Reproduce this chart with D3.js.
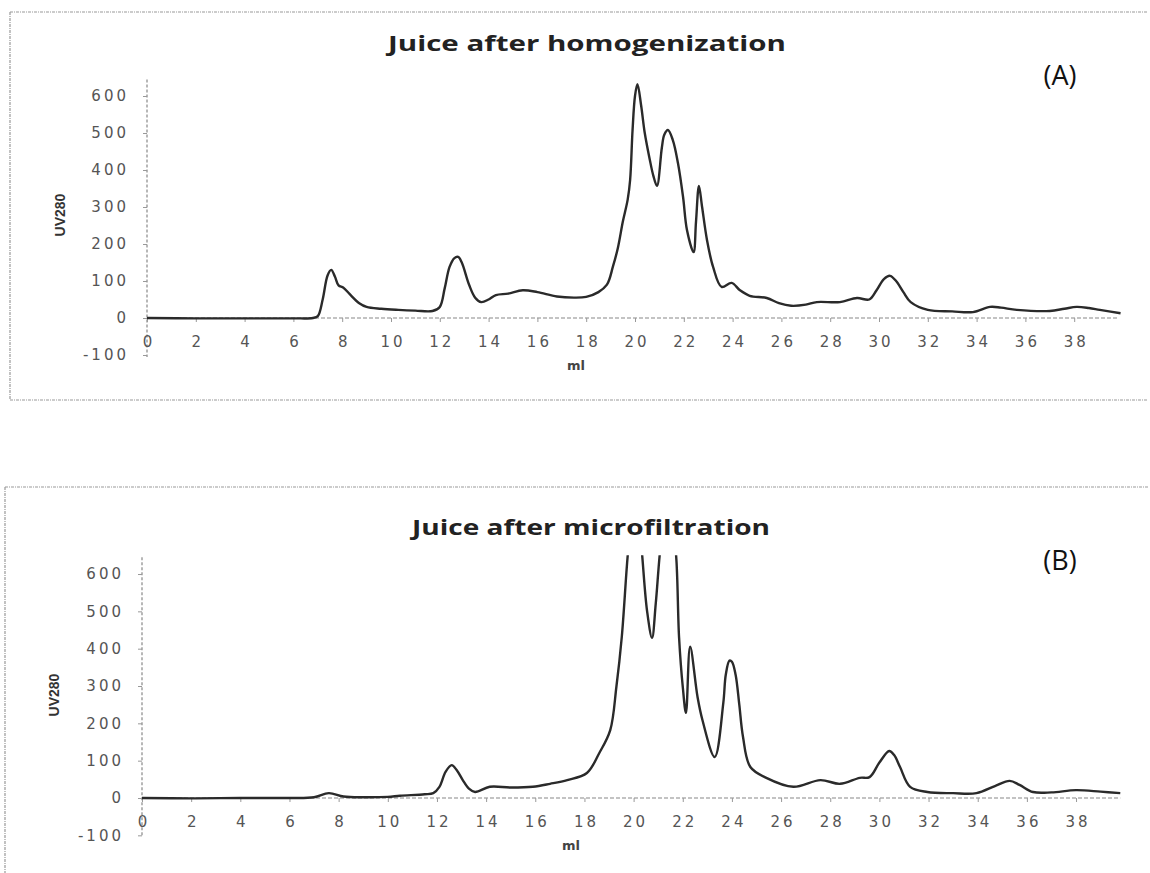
<!DOCTYPE html>
<html>
<head>
<meta charset="utf-8">
<script src="https://cdn.jsdelivr.net/npm/d3@7"></script>
<style>
  html, body { margin: 0; padding: 0; background: #fff; }
  svg { display: block; }
</style>
</head>
<body>
<svg id="chart" width="1150" height="873"></svg>
<script>
// ---------- data ----------
const titles = ["Juice after homogenization", "Juice after microfiltration"];
const panelTags = ["(A)", "(B)"];
const xTicks = [0, 2, 4, 6, 8, 10, 12, 14, 16, 18, 20, 22, 24, 26, 28, 30, 32, 34, 36, 38];
const yTicks = [-100, 0, 100, 200, 300, 400, 500, 600];
const xLabel = "ml";
const yLabel = "UV280";

// Panel A: elution volume (ml) and UV280
const volA = [0, 2, 4, 6, 6.8, 7.0, 7.2, 7.4, 7.55, 7.7, 7.85, 8.05, 8.3, 8.7, 9.0, 9.6, 10.3, 11.0, 11.7,
  12.0, 12.2, 12.4, 12.6, 12.75, 12.9, 13.2, 13.45, 13.7, 14.0, 14.3, 14.8, 15.4, 16.0, 16.8, 17.5, 18.0,
  18.5, 18.85, 19.1, 19.3, 19.5, 19.7, 19.8, 19.9, 20.0, 20.1, 20.25, 20.4, 20.6, 20.75, 20.9, 21.1, 21.2, 21.35,
  21.55, 21.76, 21.97, 22.13, 22.4, 22.5, 22.62, 22.75, 22.95, 23.2, 23.55, 23.96, 24.3, 24.7, 25.4, 25.9,
  26.4, 27.0, 27.45, 28.4, 29.1, 29.6, 29.9, 30.2, 30.45, 30.7, 31.0, 31.3, 32.0, 33.0, 33.85, 34.55,
  35.0, 35.65, 37.0, 37.6, 38.1, 38.6, 39.05, 39.9];
const uvA = [0, -1, -1, -1, 0, 5, 50, 115, 130, 112, 88, 82, 65, 40, 30, 25, 22, 20, 19,
  30, 80, 138, 162, 165, 150, 90, 55, 43, 50, 62, 66, 75, 70, 58, 55, 57,
  70, 90, 140, 190, 260, 320, 373, 508, 600, 632, 575, 500, 430, 385, 357, 460, 495, 508,
  481, 419, 327, 238, 178, 260, 357, 300, 211, 138, 84, 95, 75, 60, 54, 40,
  33, 36, 43, 43, 54, 50, 75, 105, 114, 100, 70, 43, 22, 18, 16, 30,
  28, 22, 19, 25, 30, 27, 22, 13];

// Panel B
const volB = [0, 2, 4, 6, 7.0, 7.6, 8.2, 9.0, 10.0, 10.5, 11.5, 11.85, 12.1, 12.35, 12.6, 12.8, 13.05,
  13.3, 13.55, 14.15, 15.0, 15.9, 16.6, 17.3, 18.1, 18.6, 19.05, 19.3, 19.52, 19.77, 20.0, 20.2, 20.34,
  20.55, 20.75, 20.9, 21.07, 21.3, 21.55, 21.72, 21.85, 22.0, 22.13, 22.3, 22.6, 22.8, 23.3, 23.65, 23.75,
  23.9, 24.0, 24.15, 24.3, 24.45, 24.75, 25.4, 26.5, 27.6, 28.4, 29.2, 29.6, 30.0, 30.4, 30.6, 30.84, 31.25,
  31.95, 33.0, 33.95, 34.7, 35.3, 35.7, 36.25, 37.0, 38.0, 39.0, 39.8];
const uvB = [0, -1, 0, 0, 2, 13, 4, 2, 3, 6, 10, 13, 30, 70, 88, 75, 48,
  25, 16, 30, 28, 30, 38, 48, 67, 120, 182, 298, 432, 657, 800, 760, 657,
  500, 429, 520, 657, 790, 730, 657, 430, 298, 228, 405, 271, 209, 110, 255, 330,
  368, 365, 330, 250, 164, 83, 54, 30, 48, 38, 54, 56, 95, 126, 115, 83, 30,
  16, 13, 13, 32, 46, 35, 16, 15, 21, 17, 13];

// ---------- layout ----------
const panels = [
  { vol: volA, uv: uvA, frame: { x: 10, y: 12, w: 1138, h: 388 },
    x0: 147, xPer: 24.4, y0: 318, yPer: 0.37, titleY: 51, titleX: 587, titleW: 398,
    tagX: 1060, tagY: 85, mlY: 370, mlX: 576, uvX: 60, uvY: 215, bottomBorder: true },
  { vol: volB, uv: uvB, frame: { x: 5, y: 487, w: 1143, h: 400 },
    x0: 142, xPer: 24.58, y0: 798, yPer: 0.3733, titleY: 535, titleX: 591, titleW: 358,
    tagX: 1060, tagY: 570, mlY: 850, mlX: 571, uvX: 54, uvY: 695, bottomBorder: false }
];

const svg = d3.select("#chart");

panels.forEach((p, i) => {
  const g = svg.append("g");
  const f = p.frame;
  const frameStyle = s => s.attr("stroke", "#999").attr("stroke-width", 1.2)
    .attr("stroke-dasharray", "3,1,1,1").attr("fill", "none");
  g.append("line").attr("x1", f.x).attr("x2", f.x + f.w).attr("y1", f.y).attr("y2", f.y).call(frameStyle);
  g.append("line").attr("x1", f.x).attr("x2", f.x).attr("y1", f.y).attr("y2", f.y + f.h).call(frameStyle);
  if (p.bottomBorder)
    g.append("line").attr("x1", f.x).attr("x2", f.x + f.w).attr("y1", f.y + f.h).attr("y2", f.y + f.h).call(frameStyle);

  const x = d3.scaleLinear().domain([0, 40]).range([p.x0, p.x0 + 40 * p.xPer]);
  const y = d3.scaleLinear().domain([0, 650]).range([p.y0, p.y0 - 650 * p.yPer]);

  const clipId = "clip" + i;
  svg.append("clipPath").attr("id", clipId).append("rect")
    .attr("x", x(0) - 2).attr("y", y(650)).attr("width", x(40) - x(0) + 4).attr("height", y(-100) - y(650));

  const fmt = d => String(d);

  // y axis
  const yAx = g.append("g").attr("transform", `translate(${x(0)},0)`)
    .call(d3.axisLeft(y).tickValues(yTicks).tickSize(4).tickSizeOuter(0).tickPadding(14).tickFormat(fmt));
  yAx.select(".domain").attr("d", `M0,${y(650) + 2}V${y(-100) + 2}`)
    .attr("stroke", "#888").attr("stroke-width", 1.2).attr("stroke-dasharray", "3,2");
  yAx.selectAll(".tick line").attr("stroke", "#999");
  yAx.selectAll(".tick text").attr("fill", "#555").attr("font-family", "DejaVu Sans")
    .attr("font-size", 15).attr("letter-spacing", "3px");

  // x axis at y = 0
  const xAx = g.append("g").attr("transform", `translate(0,${y(0)})`)
    .call(d3.axisBottom(x).tickValues(xTicks).tickSize(4).tickSizeOuter(0).tickPadding(14).tickFormat(fmt));
  xAx.select(".domain").attr("d", `M${x(0)},0H${x(39.8)}`)
    .attr("stroke", "#888").attr("stroke-width", 1.2).attr("stroke-dasharray", "4,2");
  xAx.selectAll(".tick line").attr("stroke", "#999");
  xAx.selectAll(".tick text").attr("fill", "#555").attr("font-family", "DejaVu Sans")
    .attr("font-size", 15).attr("letter-spacing", "3px").attr("dx", "1.5");

  // line
  const pts = p.vol.map((v, k) => [v, p.uv[k]]);
  const line = d3.line().x(d => x(d[0])).y(d => y(d[1])).curve(d3.curveCatmullRom.alpha(0.5));
  g.append("path").datum(pts).attr("d", line).attr("clip-path", `url(#${clipId})`)
    .attr("fill", "none").attr("stroke", "#2a2a2a").attr("stroke-width", 2.4).attr("stroke-linejoin", "round");

  // title
  g.append("text").attr("x", p.titleX).attr("y", p.titleY).attr("text-anchor", "middle")
    .attr("font-family", "Open Sans").attr("font-weight", "bold").attr("font-size", 21)
    .attr("fill", "#222").attr("textLength", p.titleW).attr("lengthAdjust", "spacingAndGlyphs")
    .text(titles[i]);

  // panel tag
  g.append("text").attr("x", p.tagX).attr("y", p.tagY).attr("text-anchor", "middle")
    .attr("font-family", "Open Sans").attr("font-size", 27).attr("fill", "#111").text(panelTags[i]);

  // axis titles
  g.append("text").attr("x", p.mlX).attr("y", p.mlY).attr("text-anchor", "middle")
    .attr("font-family", "DejaVu Sans").attr("font-weight", "bold").attr("font-size", 13)
    .attr("fill", "#444").text(xLabel);
  g.append("text").attr("transform", `translate(${p.uvX},${p.uvY}) rotate(-90)`)
    .attr("text-anchor", "middle").attr("dy", "0.35em")
    .attr("font-family", "Liberation Sans Narrow, Liberation Sans").attr("font-weight", "bold").attr("font-size", 14)
    .attr("fill", "#333").text(yLabel);
});
</script>
</body>
</html>
